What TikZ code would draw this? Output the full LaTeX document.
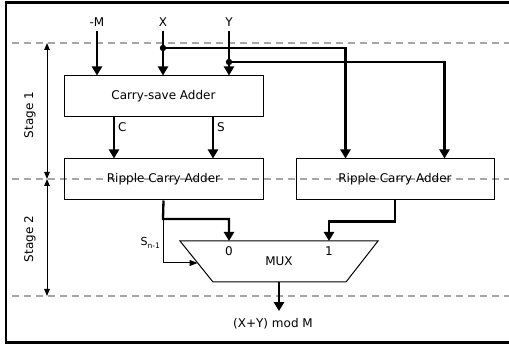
\documentclass[tikz,border=0pt]{standalone}
\usepackage{fontspec}
\setmainfont{DejaVu Sans}
\usetikzlibrary{arrows.meta,calc}
\begin{document}
\begin{tikzpicture}[x=1pt,y=-1pt,
  font=\fontsize{12}{14}\selectfont,
  blk/.style={draw,line width=1pt,minimum width=199pt,minimum height=41pt,inner sep=0pt},
  bus/.style={line width=2.3pt,-{Triangle[length=9pt,width=10pt]}},
  thin/.style={line width=1pt},
  stagebar/.style={line width=1pt,{Triangle[length=7pt,width=5.5pt]}-{Triangle[length=7pt,width=5.5pt]}},
  sep/.style={draw=black!35,line width=1.3pt,dash pattern=on 7pt off 5pt},
  lbl/.style={inner sep=1pt}]
\useasboundingbox (0,0) rectangle (509,344);

% frame
\draw[line width=2.2pt] (509,2.5) -- (6,2.5) -- (6,342.5) -- (509,342.5);

% stage separators
\draw[sep] (12,43) -- (509,43);
\draw[sep] (12,179) -- (509,179);
\draw[sep] (12,296) -- (509,296);

% stage markers
\coordinate (s0) at (47,43);
\coordinate (s1) at (47,179);
\coordinate (s2) at (47,296);
\draw[stagebar] (s0) -- (s1);
\draw[stagebar] (s1) -- (s2);
\node[rotate=90] (st1) at (30,115) {Stage 1};
\node[rotate=90] (st2) at (30,239) {Stage 2};

% blocks
\node[blk] (csa) at (163.5,96.5) {Carry-save Adder};
\node[blk] (rca1) at (163.5,179.5) {Ripple Carry Adder};
\node[blk,minimum width=198pt] (rca2) at (395,179.5) {Ripple Carry Adder};

% inputs
\node[lbl] (im) at (97,22) {-M};
\node[lbl] (ix) at (163,22) {X};
\node[lbl] (iy) at (229,22) {Y};
\draw[bus] (im.south) ++(0,3) -- (im.south |- csa.north);
\draw[bus] (ix.south) ++(0,3) -- (ix.south |- csa.north);
\draw[bus] (iy.south) ++(0,3) -- (iy.south |- csa.north);

% branches of X and Y to the second adder
\coordinate (xd) at (163,48);
\coordinate (yd) at (229,62);
\coordinate (xa) at ($(rca2.north west)+(50,0)$);
\coordinate (ya) at ($(rca2.north west)+(149,0)$);
\draw[bus] (xd) -| (xa);
\draw[bus] (yd) -| (ya);
\fill (xd) circle (3.2pt);
\fill (yd) circle (3.2pt);

% carry and sum
\coordinate (cx) at (114,0);
\coordinate (sx) at (213,0);
\draw[bus] (csa.south -| cx) -- (rca1.north -| cx);
\draw[bus] (csa.south -| sx) -- (rca1.north -| sx);
\node[lbl,anchor=west] (lc) at (117,127) {C};
\node[lbl,anchor=west] (ls) at (216,127) {S};

% multiplexer
\coordinate (m1) at (180,241);
\coordinate (m2) at (378,241);
\coordinate (m3) at (346,282);
\coordinate (m4) at (213,282);
\draw[thin] (m1) -- (m2) -- (m3) -- (m4) -- cycle;
\node (mux) at (279,261) {MUX};
\node (in0) at (229,251) {0};
\node (in1) at (329,251) {1};

% adder outputs into the multiplexer
\coordinate (j0) at (163,219);
\coordinate (j1) at (395,221.5);
\draw[bus] (rca1.south) -- (j0) -| (in0 |- m1);
\draw[bus] (rca2.south) -- (j1) -| (in1 |- m1);

% select line
\coordinate (sb) at (163,263);
\coordinate (se) at (197.5,263);
\draw[thin,-{Triangle[length=8pt,width=6pt]}] (j0) -- (sb) -- (se);
\node[lbl,anchor=east,font=\fontsize{11}{13}\selectfont] (sel) at (161,243)
  {S\raisebox{-0.45ex}{\fontsize{7.5}{8}\selectfont n-1}};

% result
\node (out) at (273,324) {(X+Y) mod M};
\draw[bus,shorten >=4pt] (mux |- m4) -- (mux |- out.north);
\end{tikzpicture}
\end{document}
